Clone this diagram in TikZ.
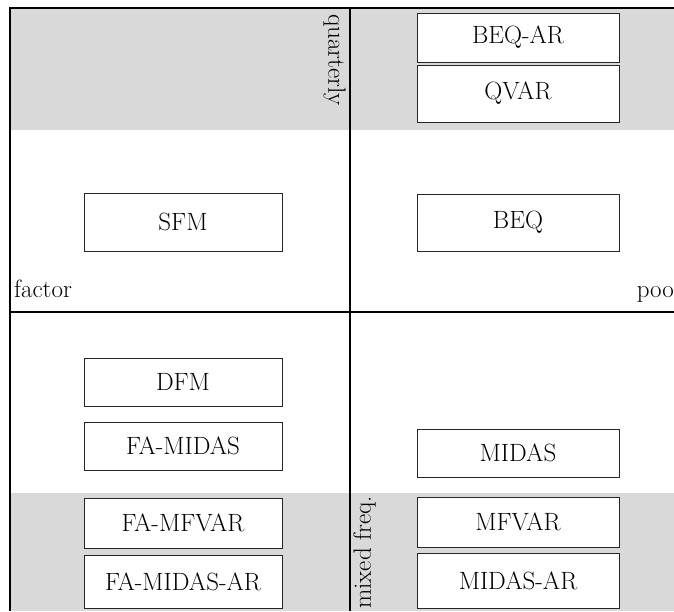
\documentclass[tikz,border=0pt]{standalone}
\usepackage{fontspec}
\usepackage{tikz}

\begin{document}
\begin{tikzpicture}[x=1pt,y=-1pt,
  model/.style={draw=black!85,fill=white,line width=0.8pt,inner sep=0pt,font=\fontsize{25}{29}\selectfont},
  lmodel/.style={model,minimum width=198pt},
  rmodel/.style={model,minimum width=202pt},
  axis/.style={line width=2.6pt},
  band/.style={fill=black!15},
  tag/.style={inner sep=0pt,font=\fontsize{25}{29}\selectfont}]
\useasboundingbox (0,0) rectangle (674,611);
% shaded frequency bands
\fill[band] (10,8) rectangle (674,130);
\fill[band] (10,493) rectangle (674,611);
% frame and dividers
\draw[axis] (10,611) -- (10,8) -- (674,8);
\draw[axis] (350,8) -- (350,611);
\draw[axis] (10,312) -- (674,312);
% models
\node[rmodel,minimum height=49pt] (beqar) at (518,37.5) {BEQ-AR};
\node[rmodel,minimum height=57pt] (qvar) at (518,93.5) {QVAR};
\node[lmodel,minimum height=58pt] (sfm) at (183,222) {SFM};
\node[rmodel,minimum height=57pt] (beq) at (518,222.5) {BEQ};
\node[lmodel,minimum height=48pt] (dfm) at (183,382) {DFM};
\node[lmodel,minimum height=48pt] (famidas) at (183,446) {FA-MIDAS};
\node[rmodel,minimum height=48pt] (midas) at (518,453) {MIDAS};
\node[lmodel,minimum height=50pt] (famfvar) at (183,523) {FA-MFVAR};
\node[lmodel,minimum height=53pt] (famidasar) at (183,581.5) {FA-MIDAS-AR};
\node[rmodel,minimum height=50pt] (mfvar) at (518,522) {MFVAR};
\node[rmodel,minimum height=55pt] (midasar) at (518,580.5) {MIDAS-AR};
% axis labels
\node[tag,anchor=base west] (factor) at (14,297) {factor};
\node[tag,anchor=base east] (pool) at (674,297) {poo};
\node[tag,rotate=-90,anchor=north west] (quarterly) at (346,14) {quarterly};
\node[tag,rotate=90,anchor=north west] (mixed) at (353,609) {mixed freq.};
\end{tikzpicture}
\end{document}
